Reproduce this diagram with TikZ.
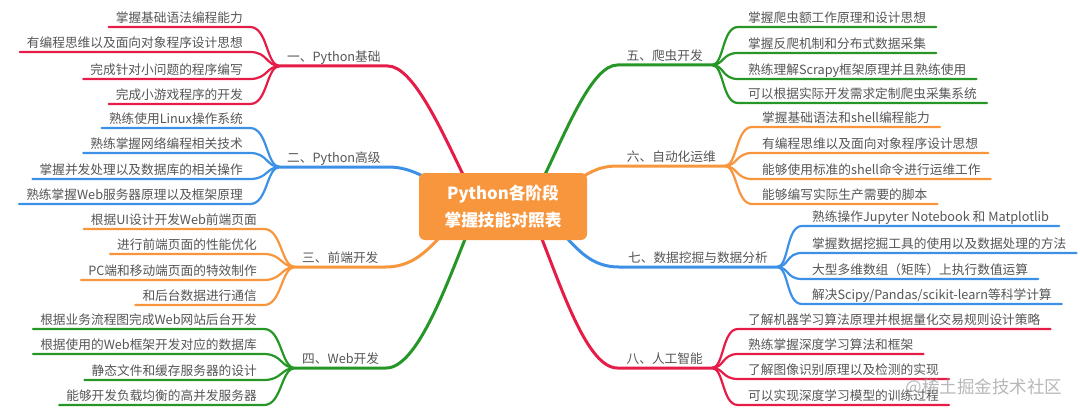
\documentclass[tikz,border=0pt]{standalone}
\usepackage{fontspec}
\setmainfont{Noto Sans CJK SC}
\usetikzlibrary{calc,backgrounds}
\definecolor{cred}{RGB}{230,28,72}
\definecolor{cblue}{RGB}{60,145,230}
\definecolor{corange}{RGB}{248,150,62}
\definecolor{cgreen}{RGB}{38,150,38}
\definecolor{ctext}{RGB}{85,85,85}
\tikzset{
  leaf/.style={font=\fontsize{12.7}{14}\selectfont, text=ctext, inner ysep=2, text height=10, text depth=2.5},
  leafL/.style={leaf, anchor=south east, inner xsep=7},
  leafR/.style={leaf, anchor=south west, inner xsep=10},
  labL/.style={leaf, anchor=south west, inner xsep=7},
  labR/.style={leaf, anchor=south east, inner xsep=9},
  mainline/.style={line width=3, line cap=round},
  subline/.style={line width=2.2, line cap=round},
  centerbox/.style={fill=corange, text=white, rounded corners=6, minimum width=168, minimum height=67, align=center, font=\bfseries\fontsize{16.7}{27}\selectfont, inner sep=0}
}
\begin{document}
\begin{tikzpicture}[x=1pt,y=-1pt]
\useasboundingbox (0,0) rectangle (1080,412);
\node[centerbox] (c) at (503,206.5) {Python各阶段\\掌握技能对照表};

% junctions
\coordinate (J1) at (280,66);
\coordinate (J2) at (280,167);
\coordinate (J3) at (295,267);
\coordinate (J4) at (295,368);
\coordinate (J5) at (712,65);
\coordinate (J6) at (725,166);
\coordinate (J7) at (777,267);
\coordinate (J8) at (712,368);

% labels
\node[labL] (l1) at (J1) {一、Python基础};
\node[labL] (l2) at (J2) {二、Python高级};
\node[labL] (l3) at (J3) {三、前端开发};
\node[labL] (l4) at (J4) {四、Web开发};
\node[labR] (l5) at (J5) {五、爬虫开发};
\node[labR] (l6) at (J6) {六、自动化运维};
\node[labR] (l7) at (J7) {七、数据挖掘与数据分析};
\node[labR] (l8) at (J8) {八、人工智能};

% leaves left
\node[leafL] (a1) at (250,27) {掌握基础语法编程能力};
\node[leafL] (a2) at (250,52) {有编程思维以及面向对象程序设计思想};
\node[leafL] (a3) at (250,79) {完成针对小问题的程序编写};
\node[leafL] (a4) at (250,104) {完成小游戏程序的开发};
\node[leafL] (b1) at (250,128) {熟练使用Linux操作系统};
\node[leafL] (b2) at (250,153) {熟练掌握网络编程相关技术};
\node[leafL] (b3) at (250,179) {掌握并发处理以及数据库的相关操作};
\node[leafL] (b4) at (250,204) {熟练掌握Web服务器原理以及框架原理};
\node[leafL] (d1) at (264,229) {根据UI设计开发Web前端页面};
\node[leafL] (d2) at (264,254) {进行前端页面的性能优化};
\node[leafL] (d3) at (264,280) {PC端和移动端页面的特效制作};
\node[leafL] (d4) at (264,305) {和后台数据进行通信};
\node[leafL] (e1) at (264,329) {根据业务流程图完成Web网站后台开发};
\node[leafL] (e2) at (264,354) {根据使用的Web框架开发对应的数据库};
\node[leafL] (e3) at (264,380) {静态文件和缓存服务器的设计};
\node[leafL] (e4) at (264,405) {能够开发负载均衡的高并发服务器};

% leaves right
\node[leafR] (f1) at (738,27) {掌握爬虫额工作原理和设计思想};
\node[leafR] (f2) at (738,53) {掌握反爬机制和分布式数据采集};
\node[leafR] (f3) at (738,79) {熟练理解Scrapy框架原理并且熟练使用};
\node[leafR] (f4) at (738,103) {可以根据实际开发需求定制爬虫采集系统};
\node[leafR] (g1) at (752,127) {掌握基础语法和shell编程能力};
\node[leafR] (g2) at (752,153) {有编程思维以及面向对象程序设计思想};
\node[leafR] (g3) at (752,179) {能够使用标准的shell命令进行运维工作};
\node[leafR] (g4) at (752,204) {能够编写实际生产需要的脚本};
\node[leafR] (h1) at (802,226) {熟练操作Jupyter Notebook 和 Matplotlib};
\node[leafR] (h2) at (802,253) {掌握数据挖掘工具的使用以及数据处理的方法};
\node[leafR] (h3) at (802,279) {大型多维数组（矩阵）上执行数值运算};
\node[leafR] (h4) at (802,304) {解决Scipy/Pandas/scikit-learn等科学计算};
\node[leafR] (k1) at (738,329) {了解机器学习算法原理并根据量化交易规则设计策略};
\node[leafR] (k2) at (738,354) {熟练掌握深度学习算法和框架};
\node[leafR] (k3) at (738,379) {了解图像识别原理以及检测的实现};
\node[leafR] (k4) at (738,405) {可以实现深度学习模型的训练过程};

\begin{scope}[on background layer]
% main connectors
\draw[mainline,cred] ($(c.north)+(-38,6)$) .. controls +(-24,-50) and +(25,0) .. (l1.south east) -- (l1.south west);
\draw[mainline,cblue] ($(c.north west)+(20,12)$) .. controls +(-15,-8) and +(22,0) .. (l2.south east) -- (l2.south west);
\draw[mainline,corange] ($(c.south)+(-60,-6)$) .. controls +(-15,15) and +(28,0) .. (l3.south east) -- (l3.south west);
\draw[mainline,cgreen] ($(c.south)+(-36,-6)$) .. controls +(-22,55) and +(30,0) .. (l4.south east) -- (l4.south west);
\draw[mainline,cgreen] ($(c.north)+(40,6)$) .. controls +(24,-50) and +(-25,0) .. (l5.south west) -- (l5.south east);
\draw[mainline,corange] ($(c.north east)+(-15,10)$) .. controls +(15,-8) and +(-22,0) .. (l6.south west) -- (l6.south east);
\draw[mainline,cblue] ($(c.south)+(60,-6)$) .. controls +(15,15) and +(-28,0) .. (l7.south west) -- (l7.south east);
\draw[mainline,cred] ($(c.south)+(37,-6)$) .. controls +(22,55) and +(-30,0) .. (l8.south west) -- (l8.south east);
% left children
\foreach \n in {a1,a2,a3,a4}{\draw[subline,cred] (J1) .. controls +(-14,0) and +(18,0) .. (\n.south east) -- (\n.south west);}
\foreach \n in {b1,b2,b3,b4}{\draw[subline,cblue] (J2) .. controls +(-14,0) and +(18,0) .. (\n.south east) -- (\n.south west);}
\foreach \n in {d1,d2,d3,d4}{\draw[subline,corange] (J3) .. controls +(-14,0) and +(18,0) .. (\n.south east) -- (\n.south west);}
\foreach \n in {e1,e2,e3,e4}{\draw[subline,cgreen] (J4) .. controls +(-14,0) and +(18,0) .. (\n.south east) -- (\n.south west);}
% right children
\foreach \n in {f1,f2,f3,f4}{\draw[subline,cgreen] (J5) .. controls +(12,0) and +(-16,0) .. (\n.south west) -- (\n.south east);}
\foreach \n in {g1,g2,g3,g4}{\draw[subline,corange] (J6) .. controls +(12,0) and +(-16,0) .. (\n.south west) -- (\n.south east);}
\foreach \n in {h1,h2,h3,h4}{\draw[subline,cblue] (J7) .. controls +(12,0) and +(-16,0) .. (\n.south west) -- (\n.south east);}
\foreach \n in {k1,k2,k3,k4}{\draw[subline,cred] (J8) .. controls +(12,0) and +(-16,0) .. (\n.south west) -- (\n.south east);}
\end{scope}

\node[font=\fontsize{17.5}{20}\selectfont, text=gray!80, opacity=0.7] (wm) at (984,388) {@稀土掘金技术社区};
\end{tikzpicture}
\end{document}
